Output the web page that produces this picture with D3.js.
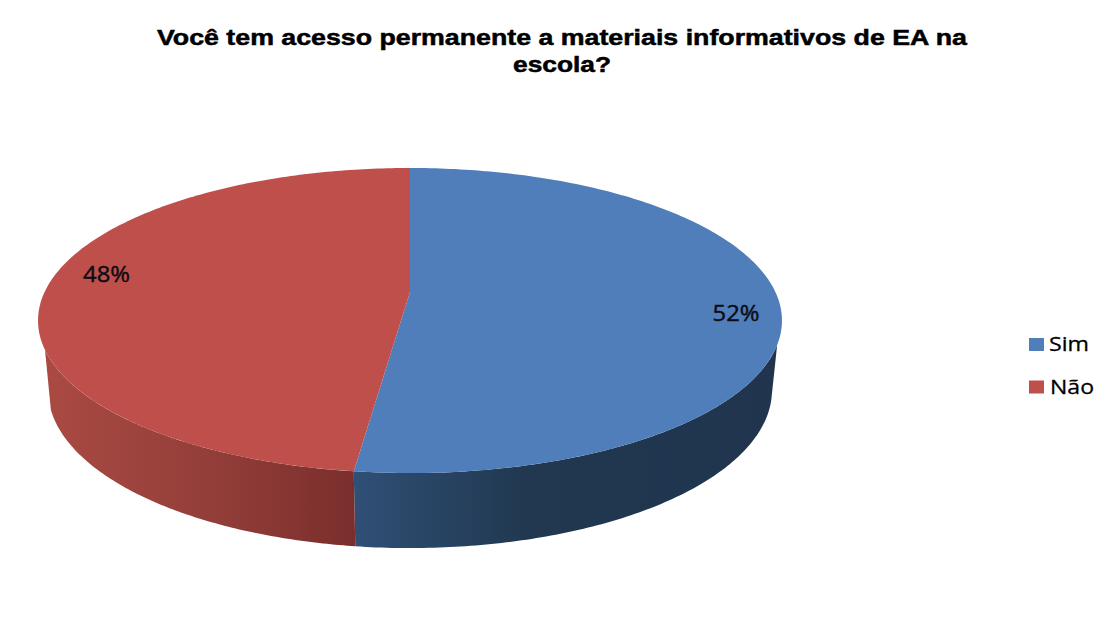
<!DOCTYPE html>
<html><head><meta charset="utf-8">
<script src="https://cdn.jsdelivr.net/npm/d3@7/dist/d3.min.js"></script>
<style>html,body{margin:0;padding:0;background:#fff}svg{display:block}</style>
</head><body><div id="c"></div>
<script>
const categories = ["Sim", "Não"];
const values = [52, 48];
const labels = ["52%", "48%"];
const colors = ["#4f7eba", "#be4f4b"];
const titleLines = ["Você tem acesso permanente a materiais informativos de EA na", "escola?"];

const W = 1115, H = 644;
const svg = d3.select("#c").append("svg").attr("width", W).attr("height", H);
const defs = svg.append("defs");

const rad = Math.PI / 180, k = 0.187, cx = 410;
const top_ = {A: 365.4, B: 147.2, Y0: 292};
const bot = {A: 355.6, B: 152.5, Y0: 360.5};
const proj = (p, a) => {
  const u = Math.sin(a), v = Math.cos(a), w = 1 + k * v;
  return [cx + p.A * u / w, p.Y0 - p.B * v / w];
};
const line = d3.line();
const arcPts = (p, a0, a1, n = 120) => d3.range(n + 1).map(i => proj(p, a0 + (a1 - a0) * i / n));

const arcs = d3.pie().sort(null).value(d => d)(values);
const split = arcs[0].endAngle;

const grad = (id, x1, x2, stops) => {
  const g = defs.append("linearGradient").attr("id", id).attr("gradientUnits", "userSpaceOnUse")
    .attr("x1", x1).attr("x2", x2).attr("y1", 0).attr("y2", 0);
  stops.forEach(s => g.append("stop").attr("offset", s[0]).attr("stop-color", s[1]));
};
grad("gRed", 40, 357, [[0, "#ab4a43"], [0.5, "#953f3a"], [1, "#7a2e2c"]]);
grad("gBlue", 356, 780, [[0, "#2f4f75"], [0.4, "#213850"], [1, "#20344e"]]);

const sidePath = (a0t, a1t, a0b, a1b) =>
  line(arcPts(top_, a0t, a1t).concat(arcPts(bot, a1b, a0b))) + "Z";
svg.append("path").attr("d", sidePath(109.7 * rad, split, 104.3 * rad, split)).attr("fill", "url(#gBlue)");
svg.append("path").attr("d", sidePath(split, 248.5 * rad, split, 252.2 * rad)).attr("fill", "url(#gRed)");

svg.selectAll("path.top").data(arcs).join("path").attr("class", "top")
  .attr("fill", (d, i) => colors[i])
  .attr("d", d => line([[cx, top_.Y0]].concat(arcPts(top_, d.startAngle, d.endAngle, 200))) + "Z");

const labelPos = [[736, 321], [106.5, 282]];
svg.selectAll("text.lab").data(labels).join("text").attr("class", "lab")
  .attr("x", (d, i) => labelPos[i][0]).attr("y", (d, i) => labelPos[i][1])
  .attr("text-anchor", "middle").attr("font-family", "'Open Sans'").attr("font-size", 21)
  .attr("textLength", 47).attr("lengthAdjust", "spacingAndGlyphs")
  .attr("fill", "#0c0c14").attr("stroke", "#0c0c14").attr("stroke-width", 0.4).text(d => d);

svg.selectAll("text.title").data(titleLines).join("text").attr("class", "title")
  .attr("x", (d, i) => [562, 562][i]).attr("y", (d, i) => 45 + i * 27)
  .attr("text-anchor", "middle").attr("font-family", "'Liberation Sans'").attr("font-weight", "bold")
  .attr("font-size", 22).attr("fill", "#000").attr("stroke", "#000").attr("stroke-width", 0.5)
  .attr("textLength", (d, i) => [810, 98][i]).attr("lengthAdjust", "spacingAndGlyphs").text(d => d);

const ly = d3.scalePoint().domain(categories).range([344.5, 387]);
svg.selectAll("rect.leg").data(categories).join("rect").attr("class", "leg")
  .attr("x", 1029).attr("y", d => ly(d) - 6.5).attr("width", 15).attr("height", 13)
  .attr("fill", (d, i) => colors[i]);
svg.selectAll("text.leg").data(categories).join("text").attr("class", "leg")
  .attr("x", (d, i) => [1049, 1050][i]).attr("y", d => ly(d) + 6.5).attr("font-family", "'Open Sans'").attr("font-size", 20)
  .attr("textLength", (d, i) => [40, 44][i]).attr("lengthAdjust", "spacingAndGlyphs")
  .attr("fill", "#000").attr("stroke", "#000").attr("stroke-width", 0.3).text(d => d);
</script></body></html>
